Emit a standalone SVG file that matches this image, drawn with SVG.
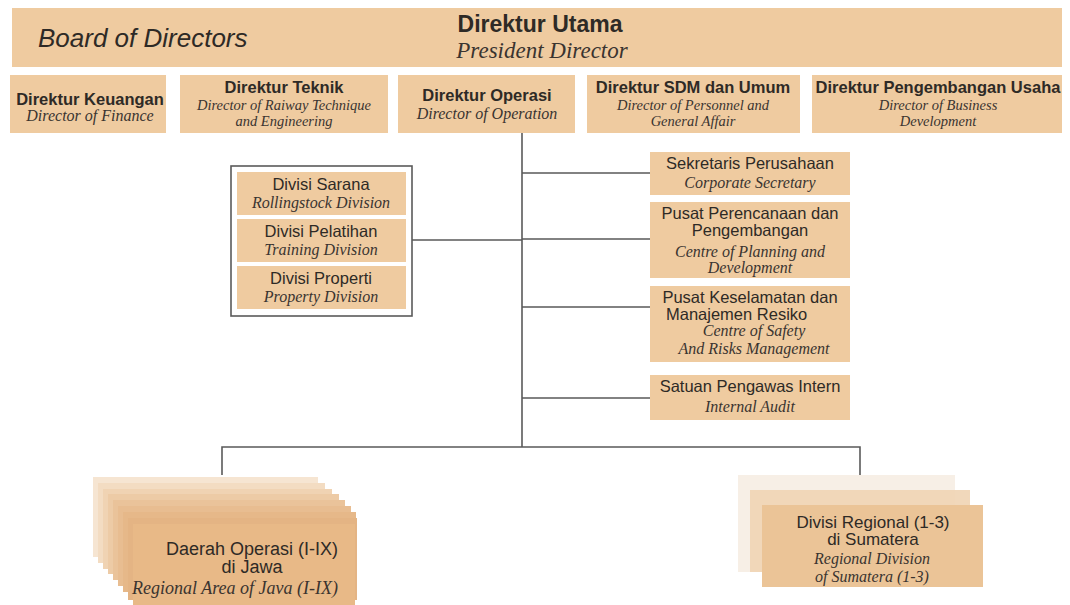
<svg xmlns="http://www.w3.org/2000/svg" width="1070" height="605" viewBox="0 0 1070 605">
<style>
.box{fill:#efcba0}
.t{font-family:"Liberation Sans",Arial,sans-serif;font-size:16.5px;fill:#2e2a26;text-anchor:middle}
.b{font-weight:bold}
.i{font-family:"Liberation Serif","Times New Roman",serif;font-style:italic;font-size:16px;fill:#3a3430;text-anchor:middle}
.s{font-size:14.5px}
.ln{stroke:#5a5a5a;stroke-width:1.6;fill:none}
</style>
<rect width="1070" height="605" fill="#ffffff"/>
<g id="board">
<rect class="box" x="12" y="8" width="1050" height="59"/>
<text x="38" y="47" style="font-family:'Liberation Sans',Arial,sans-serif;font-style:italic;font-size:26px;fill:#2e2a26">Board of Directors</text>
<text class="t b" x="540" y="32" style="font-size:23px">Direktur Utama</text>
<text class="i" x="542" y="58" style="font-size:23px">President Director</text>
</g>
<g id="keuangan">
<rect class="box" x="10" y="75" width="156" height="58"/>
<text class="t b" x="90" y="105">Direktur Keuangan</text>
<text class="i" x="90" y="121">Director of Finance</text>
</g>
<g id="teknik">
<rect class="box" x="180" y="75" width="208" height="58"/>
<text class="t b" x="284" y="93">Direktur Teknik</text>
<text class="i s" x="284" y="110">Director of Raiway Technique</text>
<text class="i s" x="284" y="126">and Engineering</text>
</g>
<g id="operasi">
<rect class="box" x="398" y="75" width="177" height="58"/>
<text class="t b" x="487" y="101">Direktur Operasi</text>
<text class="i" x="487" y="119">Director of Operation</text>
</g>
<g id="sdm">
<rect class="box" x="587" y="75" width="213" height="58"/>
<text class="t b" x="693" y="93">Direktur SDM dan Umum</text>
<text class="i s" x="693" y="110">Director of Personnel and</text>
<text class="i s" x="693" y="126">General Affair</text>
</g>
<g id="pengembangan">
<rect class="box" x="812" y="75" width="250" height="58"/>
<text class="t b" x="938" y="93">Direktur Pengembangan Usaha</text>
<text class="i s" x="938" y="110">Director of Business</text>
<text class="i s" x="938" y="126">Development</text>
</g>
<g id="connectors">
<path class="ln" d="M522 133V447M522 173H650M522 239H650M522 307H650M522 398H650M522 240H412M222 475V447H860V475"/>
</g>
<g id="divisi-group">
<rect x="231" y="166" width="181" height="150" fill="#ffffff" stroke="#5a5a5a" stroke-width="1.6"/>
</g>
<g id="sarana">
<rect class="box" x="237" y="172" width="169" height="43"/>
<text class="t" x="321" y="190">Divisi Sarana</text>
<text class="i" x="321" y="208">Rollingstock Division</text>
</g>
<g id="pelatihan">
<rect class="box" x="237" y="219" width="169" height="43"/>
<text class="t" x="321" y="237">Divisi Pelatihan</text>
<text class="i" x="321" y="255">Training Division</text>
</g>
<g id="properti">
<rect class="box" x="237" y="266" width="169" height="43"/>
<text class="t" x="321" y="284">Divisi Properti</text>
<text class="i" x="321" y="302">Property Division</text>
</g>
<g id="sekretaris">
<rect class="box" x="650" y="152" width="200" height="43"/>
<text class="t" x="750" y="169">Sekretaris Perusahaan</text>
<text class="i" x="750" y="188">Corporate Secretary</text>
</g>
<g id="perencanaan">
<rect class="box" x="650" y="202" width="200" height="76"/>
<text class="t" x="750" y="219">Pusat Perencanaan dan</text>
<text class="t" x="750" y="236">Pengembangan</text>
<text class="i" x="750" y="257">Centre of Planning and</text>
<text class="i" x="750" y="273">Development</text>
</g>
<g id="keselamatan">
<rect class="box" x="650" y="286" width="200" height="76"/>
<text class="t" x="750" y="303">Pusat Keselamatan dan</text>
<text x="666" y="320" style="font-family:'Liberation Sans',Arial,sans-serif;font-size:16.5px;fill:#2e2a26">Manajemen Resiko</text>
<text class="i" x="754" y="336">Centre of Safety</text>
<text class="i" x="754" y="354">And Risks Management</text>
</g>
<g id="spi">
<rect class="box" x="650" y="375" width="200" height="45"/>
<text class="t" x="750" y="392">Satuan Pengawas Intern</text>
<text class="i" x="750" y="412">Internal Audit</text>
</g>
<g id="daop-jawa">
<rect x="93" y="477" width="225" height="80" fill="#f6e5d2"/>
<rect x="98" y="483" width="227" height="80" fill="#f3dcc2"/>
<rect x="103" y="489" width="229" height="80" fill="#f0d3b3"/>
<rect x="108" y="494" width="231" height="80" fill="#edcba6"/>
<rect x="113" y="500" width="232" height="80" fill="#eac39a"/>
<rect x="118" y="506" width="233" height="80" fill="#e8bd91"/>
<rect x="123" y="512" width="233" height="80" fill="#e6b889"/>
<rect x="128" y="518" width="229" height="82" fill="#e4b484"/>
<rect x="133" y="524" width="222" height="81" fill="#e8b987"/>
<text class="t" x="252" y="555" style="font-size:18px">Daerah Operasi (I-IX)</text>
<text class="t" x="252" y="573" style="font-size:18px">di Jawa</text>
<text class="i" x="235" y="594" style="font-size:18px">Regional Area of Java (I-IX)</text>
</g>
<g id="divre-sumatera">
<rect x="738" y="475" width="217" height="97" fill="#f7efe6"/>
<rect x="750" y="490" width="220" height="82" fill="#f0d4b4" fill-opacity="0.9"/>
<rect x="762" y="505" width="221" height="82" fill="#ebc497"/>
<text class="t" x="873" y="528" style="font-size:17px">Divisi Regional (1-3)</text>
<text class="t" x="873" y="545" style="font-size:17px">di Sumatera</text>
<text class="i" x="872" y="564" style="font-size:16px">Regional Division</text>
<text class="i" x="872" y="582" style="font-size:16px">of Sumatera (1-3)</text>
</g>
</svg>
